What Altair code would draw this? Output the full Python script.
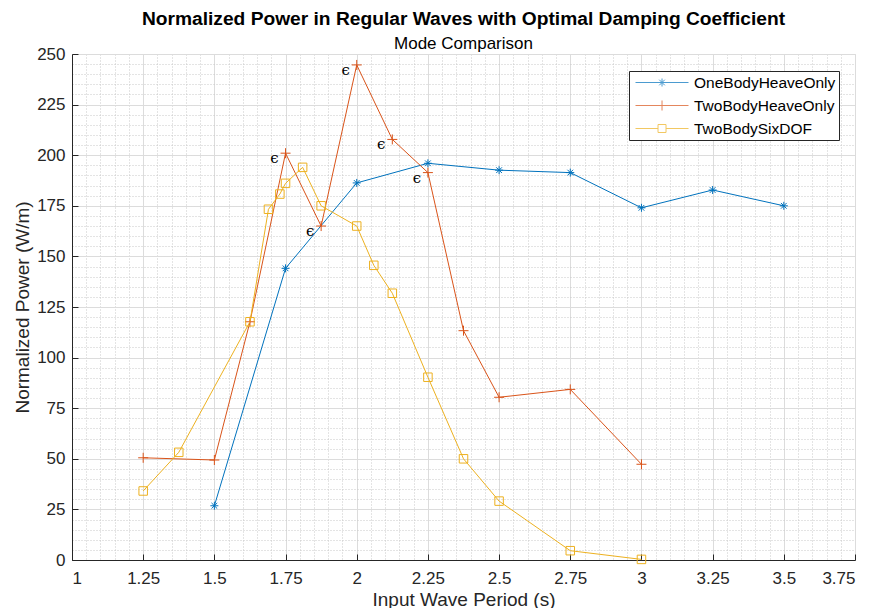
import altair as alt
import pandas as pd

# ---------------- data ----------------
series_names = ["OneBodyHeaveOnly", "TwoBodyHeaveOnly", "TwoBodySixDOF"]
series_colors = ["#0072BD", "#D95319", "#EDB120"]

one_x = [1.5, 1.75, 2.0, 2.25, 2.5, 2.75, 3.0, 3.25, 3.5]
one_y = [26.8, 144.1, 186.3, 196.0, 192.6, 191.4, 174.0, 182.8, 175.0]

two_x = [1.25, 1.5, 1.625, 1.75, 1.875, 2.0, 2.125, 2.25, 2.375, 2.5, 2.75, 3.0]
two_y = [50.5, 49.4, 117.7, 201.0, 165.0, 244.6, 207.8, 191.4, 113.3, 80.4, 84.3, 47.3]

six_x = [1.25, 1.375, 1.625, 1.69, 1.73, 1.75, 1.81, 1.875, 2.0, 2.06, 2.125,
         2.25, 2.375, 2.5, 2.75, 3.0]
six_y = [34.1, 53.2, 117.7, 173.3, 180.8, 186.1, 194.0, 175.0, 165.0, 145.6, 131.8,
         90.3, 50.0, 29.1, 4.6, 0.3]

eps_x = [1.75, 1.875, 2.0, 2.125, 2.25]
eps_y = [201.0, 165.0, 244.6, 207.8, 191.4]
eps_label = "ϵ"

x_major = [1, 1.25, 1.5, 1.75, 2, 2.25, 2.5, 2.75, 3, 3.25, 3.5, 3.75]
y_major = [0, 25, 50, 75, 100, 125, 150, 175, 200, 225, 250]
x_minor = [round(1 + 0.05 * i, 2) for i in range(56)]
y_minor = [5 * i for i in range(51)]

title_text = "Normalized Power in Regular Waves with Optimal Damping Coefficient"
subtitle_text = "Mode Comparison"
x_title = "Input Wave Period (s)"
y_title = "Normalized Power (W/m)"

# ---------------- frames ----------------
frames = []
for name, xs_, ys_ in [(series_names[0], one_x, one_y),
                       (series_names[1], two_x, two_y),
                       (series_names[2], six_x, six_y)]:
    frames.append(pd.DataFrame({"x": xs_, "y": ys_, "series": name}))
df = pd.concat(frames, ignore_index=True)
df_eps = pd.DataFrame({"x": eps_x, "y": eps_y, "t": eps_label})

W, H = 783, 506
FONT = "Liberation Sans"
AX = "#262626"

xs = alt.Scale(domain=[1, 3.75], nice=False, zero=False)
ys = alt.Scale(domain=[0, 250], nice=False, zero=True)

# marker paths (unit -> sqrt(size)/2 px)
star_p = "M-0.8,0H0.8M0,-0.8V0.8M-0.57,-0.57L0.57,0.57M-0.57,0.57L0.57,-0.57"
plus_p = "M-1,0H1M0,-1V1"
sq_p = "M-0.85,-0.85H0.85V0.85H-0.85Z"
marker_paths = [star_p, plus_p, sq_p]

base = alt.Chart(df)

# minor grid layer
minor = base.mark_point(opacity=0).encode(
    x=alt.X("x:Q", scale=xs, axis=alt.Axis(values=x_minor, grid=True, gridDash=[1, 2],
            gridColor="#c8c8c8", gridWidth=1, labels=False, ticks=False, domain=False,
            title=None, orient="bottom")),
    y=alt.Y("y:Q", scale=ys, axis=alt.Axis(values=y_minor, grid=True, gridDash=[1, 2],
            gridColor="#c8c8c8", gridWidth=1, labels=False, ticks=False, domain=False,
            title=None, orient="left")),
)

# major grid + labels
major = base.mark_point(opacity=0).encode(
    x=alt.X("x:Q", scale=xs, axis=alt.Axis(values=x_major, grid=True, gridColor="#dcdcdc",
            gridWidth=1, labels=True, ticks=False, domain=True, domainColor=AX,
            labelColor=AX, labelFont=FONT, labelFontSize=17, labelPadding=10,
            title=x_title, titleFont=FONT, titleFontSize=19, titleFontWeight="normal",
            titleColor=AX, titlePadding=4, orient="bottom", format=".2~f")),
    y=alt.Y("y:Q", scale=ys, axis=alt.Axis(values=y_major, grid=True, gridColor="#dcdcdc",
            gridWidth=1, labels=True, ticks=False, domain=True, domainColor=AX,
            labelColor=AX, labelFont=FONT, labelFontSize=17, labelPadding=7,
            title=y_title, titleFont=FONT, titleFontSize=19, titleFontWeight="normal",
            titleColor=AX, titlePadding=4, orient="left")),
)

# inward ticks
inticks = base.mark_point(opacity=0).encode(
    x=alt.X("x:Q", scale=xs, axis=alt.Axis(values=x_major, grid=False, labels=False,
            ticks=True, tickSize=6, tickColor=AX, domain=False, title=None,
            orient="top", offset=-H)),
    y=alt.Y("y:Q", scale=ys, axis=alt.Axis(values=y_major, grid=False, labels=False,
            ticks=True, tickSize=6, tickColor=AX, domain=False, title=None,
            orient="right", offset=-W)),
)

data_layers = []
for name, col, mp in zip(series_names, series_colors, marker_paths):
    sub = base.transform_filter(alt.datum.series == name)
    data_layers.append(sub.mark_line(color=col, strokeWidth=1).encode(
        x=alt.X("x:Q", scale=xs, axis=None), y=alt.Y("y:Q", scale=ys, axis=None)))
    data_layers.append(sub.mark_point(shape=mp, color=col, filled=False, size=100,
                                      strokeWidth=1, opacity=1).encode(
        x=alt.X("x:Q", scale=xs, axis=None), y=alt.Y("y:Q", scale=ys, axis=None)))

eps = alt.Chart(df_eps).mark_text(font="DejaVu Serif", fontSize=15, color="#000000",
                                  dx=-11, dy=5, align="center", baseline="middle").encode(
    x=alt.X("x:Q", scale=xs, axis=None), y=alt.Y("y:Q", scale=ys, axis=None), text="t:N")

# legend layer (symbol scale: 8 px per unit with symbolSize 256)
legend_paths = [
    "M-0.625,0H6M2.19,0H3.19M2.69,-0.5V0.5M2.34,-0.35L3.04,0.35M2.34,0.35L3.04,-0.35",
    "M-0.625,0H6M2.69,-0.625V0.625",
    "M-0.625,0H2.19M3.19,0H6M2.19,-0.5H3.19V0.5H2.19Z",
]
leg = alt.Legend(title=None, orient="none", legendX=557, legendY=17,
                 labelFont=FONT, labelFontSize=15.5, labelColor="#000000",
                 symbolSize=256, symbolStrokeWidth=1,
                 fillColor="#ffffff", strokeColor=AX, padding=3,
                 rowPadding=6, labelOffset=45)
legend_layer = base.transform_filter("false").mark_point(filled=False).encode(
    x=alt.X("x:Q", scale=xs, axis=None),
    y=alt.Y("y:Q", scale=ys, axis=None),
    color=alt.Color("series:N", scale=alt.Scale(domain=series_names, range=series_colors),
                    legend=leg),
    shape=alt.Shape("series:N", scale=alt.Scale(domain=series_names, range=legend_paths),
                    legend=leg),
)

chart = alt.layer(minor, major, inticks, *data_layers, eps, legend_layer).resolve_axis(
    x="independent", y="independent"
).properties(
    width=W, height=H,
    title=alt.TitleParams(text=title_text, subtitle=subtitle_text, font=FONT,
                          fontSize=19.2, fontWeight="bold", color="#000000",
                          subtitleFont=FONT, subtitleFontSize=17, subtitleColor="#000000",
                          subtitlePadding=7, anchor="middle", offset=-7),
    autosize=alt.AutoSizeParams(type="none"),
    padding={"left": 64, "top": 46, "right": 14, "bottom": 48},
).configure_view(stroke=None)

chart.save("out.html", embed_options={"renderer": "svg", "actions": False})
